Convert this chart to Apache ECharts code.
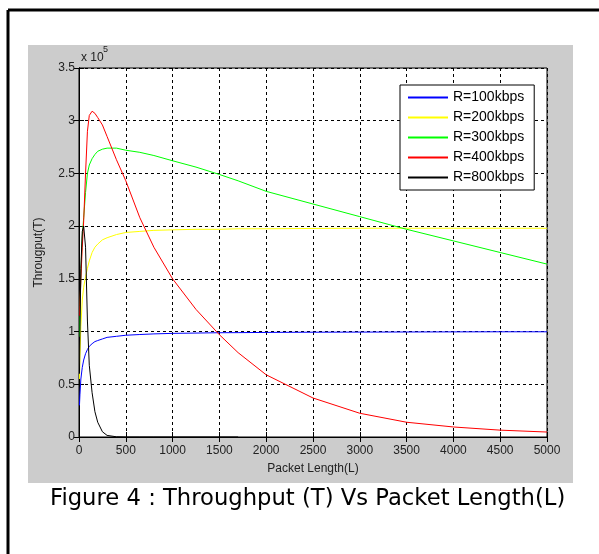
<!DOCTYPE html>
<html>
<head>
<meta charset="utf-8">
<script src="https://cdn.jsdelivr.net/npm/echarts@6/dist/echarts.min.js"></script>
<style>
    html, body { margin: 0; padding: 0; background: #fff; }
    #chart { width: 599px; height: 554px; }
</style>
</head>
<body>
<div id="chart"></div>
<script>
// packet length L (x axis)
var packetLen = [5, 10, 20, 35, 50, 70, 90, 110, 140, 170, 200, 250, 300, 400, 500, 650, 800, 1000, 1250, 1500, 1700, 2000, 2500, 3000, 3500, 4000, 4500, 5000]

// throughput, in units of 10^5
var r100 = [0.30, 0.40, 0.55, 0.66, 0.73, 0.79, 0.83, 0.86, 0.885, 0.905, 0.915, 0.93, 0.945, 0.955, 0.965, 0.972, 0.978, 0.983, 0.986, 0.989, 0.99, 0.992, 0.994, 0.995, 0.996, 0.997, 0.998, 0.998]
var r200 = [0.55, 0.75, 1.05, 1.30, 1.42, 1.52, 1.60, 1.67, 1.75, 1.80, 1.83, 1.87, 1.89, 1.92, 1.94, 1.95, 1.96, 1.965, 1.97, 1.97, 1.975, 1.975, 1.978, 1.98, 1.98, 1.98, 1.98, 1.98]
var r300 = [0.95, 1.15, 1.55, 1.90, 2.08, 2.32, 2.50, 2.58, 2.64, 2.68, 2.71, 2.73, 2.74, 2.74, 2.72, 2.70, 2.67, 2.62, 2.56, 2.49, 2.43, 2.33, 2.21, 2.09, 1.97, 1.86, 1.75, 1.64]
var r400 = [1.15, 1.25, 1.50, 1.80, 2.05, 2.50, 2.90, 3.05, 3.09, 3.07, 3.03, 2.96, 2.85, 2.63, 2.43, 2.08, 1.80, 1.50, 1.21, 0.97, 0.80, 0.59, 0.37, 0.225, 0.14, 0.095, 0.065, 0.047]
// R=800 line stops at L=1700
var r800 = [0.60, 1.00, 1.60, 1.95, 2.00, 1.80, 1.10, 0.68, 0.42, 0.24, 0.14, 0.05, 0.015, 0.002, 0, 0, 0, 0, 0, 0, 0, null, null, null, null, null, null, null]

var seriesNames = ['R=100kbps', 'R=200kbps', 'R=300kbps', 'R=400kbps', 'R=800kbps']
var seriesColors = ['#0000ff', '#ffff00', '#00ff00', '#ff0000', '#000000']
var seriesValues = [r100, r200, r300, r400, r800]

var labelFont = 'Liberation Sans, Arial, sans-serif'

function pairs(vals) {
    var out = []
    for (var i = 0; i < packetLen.length; i++) {
        if (vals[i] !== null) out.push([packetLen[i], vals[i]])
    }
    return out
}

var series = []
for (var k = 0; k < seriesNames.length; k++) {
    series.push({
        name: seriesNames[k],
        type: 'line',
        symbol: 'none',
        smooth: false,
        z: 3,
        lineStyle: { color: seriesColors[k], width: 1 },
        itemStyle: { color: seriesColors[k] },
        data: pairs(seriesValues[k])
    })
}

var dashed = { show: true, lineStyle: { color: '#000', type: [3, 3], width: 1 } }
var axisLineBlack = { show: true, lineStyle: { color: '#000', width: 1 } }
var tickIn = { show: true, inside: true, length: 5, lineStyle: { color: '#000' } }

var chart = echarts.init(document.getElementById('chart'))
var option = {
    backgroundColor: '#fff',
    animation: false,
    grid: {
        left: 79, top: 68, width: 468, height: 369,
        show: true, backgroundColor: '#fff', borderColor: '#000', borderWidth: 1
    },
    legend: {
        orient: 'vertical',
        left: 400, top: 85,
        padding: [5, 10, 5, 8],
        icon: 'rect',
        itemWidth: 40, itemHeight: 2, itemGap: 5,
        backgroundColor: '#fff',
        borderColor: '#000', borderWidth: 1,
        textStyle: { fontFamily: labelFont, fontSize: 14, lineHeight: 15, color: '#000' },
        data: seriesNames
    },
    xAxis: [{
        type: 'value', min: 0, max: 5000, interval: 500,
        name: 'Packet Length(L)', nameLocation: 'middle', nameGap: 26,
        nameTextStyle: { fontFamily: labelFont, fontSize: 12, color: '#222' },
        axisLine: axisLineBlack, axisTick: tickIn, splitLine: dashed,
        axisLabel: { fontFamily: labelFont, fontSize: 12, color: '#222', margin: 8,
            formatter: function (v) { return String(v) } }
    }, {
        type: 'value', min: 0, max: 5000, interval: 500, position: 'top',
        axisLine: axisLineBlack, axisTick: tickIn, splitLine: { show: false },
        axisLabel: { show: false }
    }],
    yAxis: [{
        type: 'value', min: 0, max: 3.5, interval: 0.5,
        name: 'Througput(T)', nameLocation: 'middle', nameGap: 34,
        nameTextStyle: { fontFamily: labelFont, fontSize: 12, color: '#222' },
        axisLine: axisLineBlack, axisTick: tickIn, splitLine: dashed,
        axisLabel: { fontFamily: labelFont, fontSize: 12, color: '#222', margin: 4 }
    }, {
        type: 'value', min: 0, max: 3.5, interval: 0.5, position: 'right',
        axisLine: axisLineBlack, axisTick: tickIn, splitLine: { show: false },
        axisLabel: { show: false }
    }],
    graphic: [
        // outer frame (top and left edges only are in view)
        { type: 'line', z: -10, shape: { x1: 8, y1: 10, x2: 599, y2: 10 }, style: { stroke: '#000', lineWidth: 3 } },
        { type: 'line', z: -10, shape: { x1: 8, y1: 10, x2: 8, y2: 554 }, style: { stroke: '#000', lineWidth: 3 } },
        // grey figure panel
        { type: 'rect', z: -9, shape: { x: 28, y: 45, width: 545, height: 438 }, style: { fill: '#cccccc' } },
        // axis multiplier
        { type: 'text', z: 10, x: 81, y: 52, style: { text: 'x 10', fontFamily: labelFont, fontSize: 12, fill: '#222' } },
        { type: 'text', z: 10, x: 103, y: 45, style: { text: '5', fontFamily: labelFont, fontSize: 9, fill: '#222' } },
        // figure caption
        { type: 'text', z: 10, x: 50, y: 499, style: { text: 'Figure 4 : Throughput (T) Vs Packet Length(L)', fontFamily: 'DejaVu Sans, sans-serif', fontSize: 22.7, fill: '#000', verticalAlign: 'middle' } }
    ],
    series: series
}
chart.setOption(option)
</script>
</body>
</html>
